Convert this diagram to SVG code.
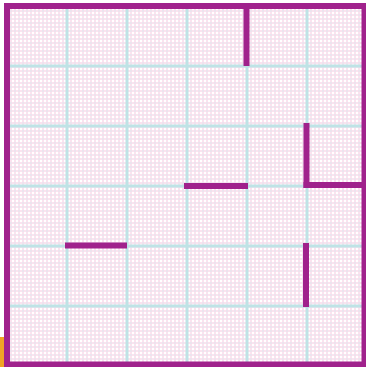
<svg xmlns="http://www.w3.org/2000/svg" width="366" height="367" viewBox="0 0 366 367">
<defs>
<pattern id="dots" x="0" y="0" width="4" height="4" patternUnits="userSpaceOnUse">
<rect width="4" height="4" fill="#fbe3ef"/>
<rect x="0" y="0" width="2" height="2" fill="#ffffff"/>
<rect x="2" y="2" width="2" height="2" fill="#ece4ee"/>
</pattern>
<style>
.grid line{stroke:#bfe3e6;stroke-width:3}
.wall{stroke:#a0228c;stroke-width:6;stroke-linecap:butt;fill:none}
</style>
</defs>
<rect width="366" height="367" fill="#ffffff"/>
<rect x="4" y="3" width="362" height="364" fill="url(#dots)"/>
<g class="grid">
<line x1="67" y1="6" x2="67" y2="364"/>
<line x1="127" y1="6" x2="127" y2="364"/>
<line x1="187" y1="6" x2="187" y2="364"/>
<line x1="247" y1="6" x2="247" y2="364"/>
<line x1="307" y1="6" x2="307" y2="364"/>
<line x1="7" y1="66" x2="364" y2="66"/>
<line x1="7" y1="126" x2="364" y2="126"/>
<line x1="7" y1="186" x2="364" y2="186"/>
<line x1="7" y1="246" x2="364" y2="246"/>
<line x1="7" y1="306" x2="364" y2="306"/>
</g>
<rect x="0" y="337" width="4" height="30" fill="#f0a424"/>
<g id="frame">
<rect x="7" y="6" width="357.5" height="358.5" class="wall"/>
</g>
<g id="walls">
<line class="wall" x1="246.5" y1="6" x2="246.5" y2="66"/>
<line class="wall" x1="306.5" y1="123" x2="306.5" y2="188"/>
<line class="wall" x1="303.5" y1="185" x2="366" y2="185"/>
<line class="wall" x1="184" y1="186" x2="248" y2="186"/>
<line class="wall" x1="65" y1="245.5" x2="127" y2="245.5"/>
<line class="wall" x1="306" y1="243" x2="306" y2="307"/>
</g>
</svg>
